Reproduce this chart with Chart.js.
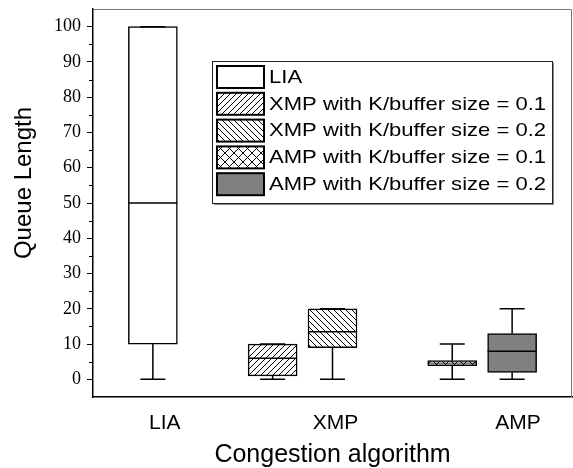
<!DOCTYPE html>
<html>
<head>
<meta charset="utf-8">
<script src="https://cdn.jsdelivr.net/npm/chart.js@4.4.0/dist/chart.umd.min.js"></script>
<style>
  body { margin: 0; background: #fff; }
</style>
</head>
<body>
<canvas id="chart" width="573" height="468"></canvas>
<script>
// box plot values, one entry per series
const seriesNames = ['LIA', 'XMP with K/buffer size = 0.1', 'XMP with K/buffer size = 0.2', 'AMP with K/buffer size = 0.1', 'AMP with K/buffer size = 0.2'];
const boxPositions = [1, 3, 4, 6, 7];
const whiskerLow = [0, 0, 0, 0, 0];
const quartile1 = [10, 1, 9, 3.9, 2];
const medians = [50, 6, 13.5, 4.6, 8];
const quartile3 = [100, 10, 20, 5.3, 13];
const whiskerHigh = [100, 10, 20, 10, 20];

// axis ticks
const groupLabels = ['LIA', 'XMP', 'AMP'];
const groupTickPositions = [1.2, 4.05, 7.1];
const yTickValues = [0, 10, 20, 30, 40, 50, 60, 70, 80, 90, 100];
const yMinorTicks = [5, 15, 25, 35, 45, 55, 65, 75, 85, 95];

function hatch(kind, size) {
    const c = document.createElement('canvas');
    c.width = size;
    c.height = size;
    const g = c.getContext('2d');
    g.fillStyle = '#fff';
    g.fillRect(0, 0, size, size);
    g.strokeStyle = '#000';
    g.lineWidth = 1;
    g.beginPath();
    if (kind === '/' || kind === 'x') {
        g.moveTo(-1, size + 1); g.lineTo(size + 1, -1);
        g.moveTo(-1, 1); g.lineTo(1, -1);
        g.moveTo(size - 1, size + 1); g.lineTo(size + 1, size - 1);
    }
    if (kind === '\\' || kind === 'x') {
        g.moveTo(-1, -1); g.lineTo(size + 1, size + 1);
        g.moveTo(size - 1, -1); g.lineTo(size + 1, 1);
        g.moveTo(-1, size - 1); g.lineTo(1, size + 1);
    }
    g.stroke();
    return g.createPattern(c, 'repeat');
}

const ctx = document.getElementById('chart').getContext('2d');
const fills = ['#ffffff', hatch('/', 6), hatch('\\', 6), hatch('x', 9), '#808080'];
const BOX_W = 49;

const datasets = seriesNames.map((name, i) => ({
    label: name,
    data: [{ x: boxPositions[i], y: [quartile1[i], quartile3[i]] }],
    backgroundColor: fills[i],
    borderColor: '#000',
    borderWidth: 1.5,
    borderSkipped: false,
    barThickness: BOX_W,
    grouped: false
}));

// gray frame on top and right of the plot
const frame = {
    id: 'frame',
    beforeDatasetsDraw(chart) {
        const a = chart.chartArea;
        const c = chart.ctx;
        c.save();
        c.strokeStyle = '#777';
        c.lineWidth = 1;
        c.beginPath();
        c.moveTo(a.left, a.top + 0.5);
        c.lineTo(a.right - 0.5, a.top + 0.5);
        c.lineTo(a.right - 0.5, a.bottom);
        c.stroke();
        c.restore();
    }
};

// medians and whiskers
const boxExtras = {
    id: 'boxExtras',
    afterDatasetsDraw(chart) {
        const xs = chart.scales.x;
        const ys = chart.scales.y;
        const c = chart.ctx;
        c.save();
        c.strokeStyle = '#000';
        for (let i = 0; i < boxPositions.length; i++) {
            const x = xs.getPixelForValue(boxPositions[i]);
            const half = BOX_W / 2;
            const cap = 12.5;
            const yMed = ys.getPixelForValue(medians[i]);
            const yQ1 = ys.getPixelForValue(quartile1[i]);
            const yQ3 = ys.getPixelForValue(quartile3[i]);
            const yLo = ys.getPixelForValue(whiskerLow[i]);
            const yHi = ys.getPixelForValue(whiskerHigh[i]);
            c.lineWidth = (yQ1 - yQ3) < 8 ? 0.8 : 1.5;
            c.beginPath();
            c.moveTo(x - half, yMed); c.lineTo(x + half, yMed);
            c.stroke();
            c.lineWidth = 1.5;
            c.beginPath();
            c.moveTo(x, yQ1); c.lineTo(x, yLo);
            c.moveTo(x - cap, yLo); c.lineTo(x + cap, yLo);
            c.moveTo(x, yQ3); c.lineTo(x, yHi);
            c.moveTo(x - cap, yHi); c.lineTo(x + cap, yHi);
            c.stroke();
        }
        c.restore();
    }
};

const minorTicks = {
    id: 'minorTicks',
    afterDraw(chart) {
        const ys = chart.scales.y;
        const left = chart.chartArea.left;
        const c = chart.ctx;
        c.save();
        c.strokeStyle = '#000';
        c.lineWidth = 1;
        c.beginPath();
        yMinorTicks.forEach(v => {
            const y = Math.round(ys.getPixelForValue(v)) + 0.5;
            c.moveTo(left - 4, y);
            c.lineTo(left, y);
        });
        c.stroke();
        c.restore();
    }
};

// legend box drawn inside the plot
const legendBox = {
    id: 'legendBox',
    afterDraw(chart) {
        const c = chart.ctx;
        const bx = 212, by = 61, bw = 340, bh = 142;
        c.save();
        c.fillStyle = '#fff';
        c.fillRect(bx, by, bw, bh);
        c.strokeStyle = '#222';
        c.lineWidth = 1;
        c.strokeRect(bx + 0.5, by + 0.5, bw, bh);
        c.strokeStyle = '#888';
        c.beginPath();
        c.moveTo(bx + bw + 1.5, by + 2);
        c.lineTo(bx + bw + 1.5, by + bh + 1.5);
        c.lineTo(bx + 2, by + bh + 1.5);
        c.stroke();
        chart.data.datasets.forEach((ds, i) => {
            const sy = by + 5 + i * 26.8;
            c.fillStyle = ds.backgroundColor;
            c.fillRect(217, sy, 47, 22);
            c.strokeStyle = '#000';
            c.lineWidth = 2;
            c.strokeRect(217, sy, 47, 22);
            c.save();
            c.translate(269, sy + 11.5);
            c.scale(1.16, 1);
            c.fillStyle = '#000';
            c.font = '19px "Liberation Sans", Arial, sans-serif';
            c.textBaseline = 'middle';
            c.fillText(ds.label, 0, 0);
            c.restore();
        });
        c.restore();
    }
};

new Chart(ctx, {
    type: 'bar',
    data: { datasets: datasets },
    options: {
        responsive: false,
        animation: false,
        layout: { padding: { top: 9, right: 1, left: 0, bottom: 0 } },
        plugins: {
            legend: { display: false },
            tooltip: { enabled: false }
        },
        scales: {
            x: {
                type: 'linear',
                offset: false,
                min: 0,
                max: 8,
                afterBuildTicks(scale) {
                    scale.ticks = groupTickPositions.map(v => ({ value: v }));
                },
                afterFit(scale) {
                    scale.height = 71;
                    scale.paddingLeft = 0;
                    scale.paddingRight = 0;
                },
                grid: { display: false },
                border: { display: true, color: '#000', width: 1.5 },
                ticks: {
                    padding: 6,
                    color: '#000',
                    font: { family: '"Liberation Sans", Arial, sans-serif', size: 21 },
                    callback(value) {
                        const idx = groupTickPositions.indexOf(value);
                        return idx >= 0 ? groupLabels[idx] : '';
                    }
                },
                title: {
                    display: true,
                    text: 'Congestion algorithm',
                    color: '#000',
                    font: { family: '"Liberation Sans", Arial, sans-serif', size: 25, lineHeight: 1 },
                    padding: { top: 0, bottom: 0 }
                }
            },
            y: {
                min: -5,
                max: 105,
                afterBuildTicks(scale) {
                    scale.ticks = yTickValues.map(v => ({ value: v }));
                },
                afterFit(scale) {
                    scale.width = 93;
                    scale.paddingTop = 0;
                    scale.paddingBottom = 0;
                },
                grid: { drawOnChartArea: false, drawTicks: true, tickLength: 6, color: '#000', lineWidth: 1 },
                border: { display: true, color: '#000', width: 1.5 },
                ticks: {
                    padding: 6,
                    color: '#000',
                    font: { family: '"Liberation Serif", "Times New Roman", serif', size: 18 }
                },
                title: {
                    display: true,
                    // leading spaces lift the title above the axis centre, as in the original
                    text: '      Queue Length',
                    color: '#000',
                    font: { family: '"Liberation Sans", Arial, sans-serif', size: 24, lineHeight: 1 },
                    padding: { top: 12, bottom: 0 }
                }
            }
        }
    },
    plugins: [frame, boxExtras, minorTicks, legendBox]
});
</script>
</body>
</html>
